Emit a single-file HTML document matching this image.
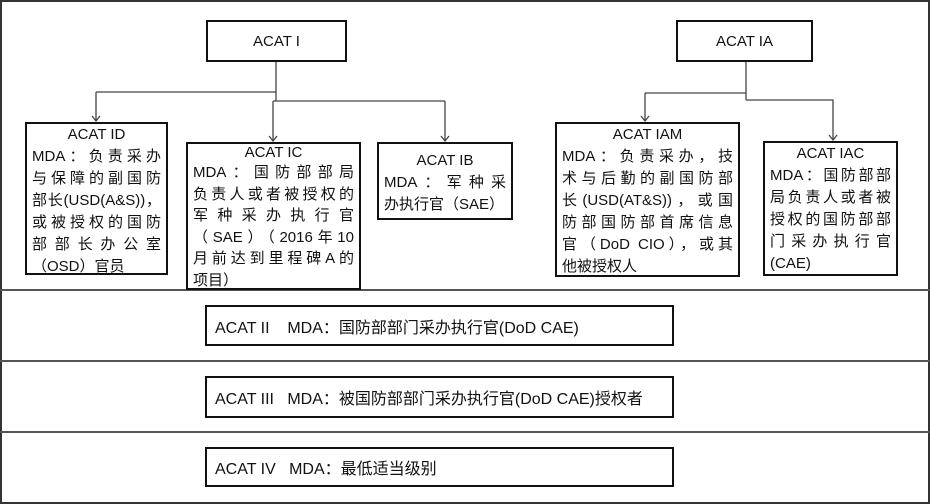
<!DOCTYPE html>
<html><head><meta charset="utf-8"><style>
body{margin:0;width:930px;height:504px;background:#fff;position:relative;overflow:hidden;font-family:"Liberation Sans","Noto Sans CJK SC",sans-serif;color:#111}
.b{position:absolute;border:2px solid #111;box-sizing:border-box;background:#fff}
.h{position:absolute;left:0;right:0;height:2px;background:#555}
.t{font-size:15px;line-height:22px;padding:0 5px}
.c{text-align:center}
.j{text-align:justify;text-align-last:justify;white-space:nowrap}
.ctr{display:flex;align-items:center;justify-content:center;font-size:15px}
.row{display:flex;align-items:center;font-size:16px;padding-left:8px}
</style></head><body>
<div style="position:absolute;left:0;top:0;width:930px;height:504px;border:2px solid #333;box-sizing:border-box"></div>
<div class="h" style="top:289px"></div>
<div class="h" style="top:360px"></div>
<div class="h" style="top:431px"></div>

<svg width="930" height="504" style="position:absolute;left:0;top:0">
<g stroke="#444" stroke-width="1.3" fill="none">
<path d="M276 61V101M96 92H276M96 92V121M273 101H445M273 101V141M445 101V141"/>
<path d="M746 61V100M645 93H746M645 93V121M746 100H833V140"/>
<path d="M92 116L96 121L100 116M269 136L273 141L277 136M441 136L445 141L449 136M641 116L645 121L649 116M829 135L833 140L837 135"/>
</g>
</svg>

<div class="b ctr" style="left:206px;top:20px;width:141px;height:42px">ACAT I</div>
<div class="b ctr" style="left:676px;top:20px;width:137px;height:42px">ACAT IA</div>

<div class="b t" style="left:25px;top:122px;width:143px;height:153px">
<div class="c">ACAT ID</div>
<div class="j">MDA：负责采办</div>
<div class="j">与保障的副国防</div>
<div class="j">部长(USD(A&amp;S))，</div>
<div class="j">或被授权的国防</div>
<div class="j">部部长办公室</div>
<div>（OSD）官员</div>
</div>

<div class="b t" style="left:186px;top:142px;width:175px;height:148px;line-height:21.5px">
<div class="c" style="line-height:18px">ACAT IC</div>
<div class="j">MDA：国防部部局</div>
<div class="j">负责人或者被授权的</div>
<div class="j">军种采办执行官</div>
<div class="j">（SAE）（2016年10</div>
<div class="j">月前达到里程碑A的</div>
<div>项目）</div>
</div>

<div class="b t" style="left:377px;top:142px;width:136px;height:78px">
<div class="c" style="margin-top:6px">ACAT IB</div>
<div class="j">MDA：军种采</div>
<div>办执行官（SAE）</div>
</div>

<div class="b t" style="left:555px;top:122px;width:185px;height:155px">
<div class="c">ACAT IAM</div>
<div class="j">MDA：负责采办，技</div>
<div class="j">术与后勤的副国防部</div>
<div class="j">长(USD(AT&amp;S))，或国</div>
<div class="j">防部国防部首席信息</div>
<div class="j">官（DoD CIO），或其</div>
<div>他被授权人</div>
</div>

<div class="b t" style="left:763px;top:141px;width:135px;height:135px">
<div class="c">ACAT IAC</div>
<div class="j">MDA：国防部部</div>
<div class="j">局负责人或者被</div>
<div class="j">授权的国防部部</div>
<div class="j">门采办执行官</div>
<div>(CAE)</div>
</div>

<div class="b row" style="left:205px;top:305px;width:469px;height:41px">ACAT II&nbsp;&nbsp;&nbsp;&nbsp;MDA：国防部部门采办执行官(DoD CAE)</div>
<div class="b row" style="left:205px;top:376px;width:469px;height:42px">ACAT III&nbsp;&nbsp;&nbsp;MDA：被国防部部门采办执行官(DoD CAE)授权者</div>
<div class="b row" style="left:205px;top:447px;width:469px;height:40px">ACAT IV&nbsp;&nbsp;&nbsp;MDA：最低适当级别</div>
</body></html>
